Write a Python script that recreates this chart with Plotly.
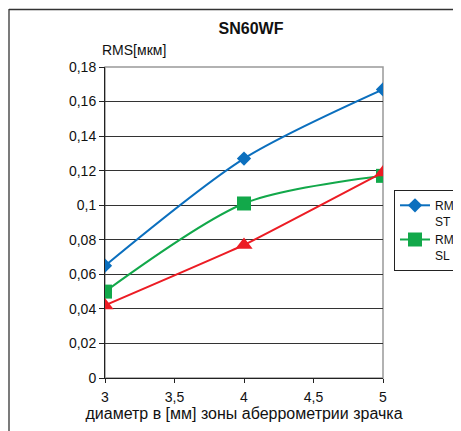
import plotly.graph_objects as go

x_mm = [3, 4, 5]
rms_st = [0.065, 0.127, 0.167]
rms_sl = [0.050, 0.101, 0.117]
rms_red = [0.042, 0.077, 0.119]

y_tickvals = [0, 0.02, 0.04, 0.06, 0.08, 0.1, 0.12, 0.14, 0.16, 0.18]
y_ticktext = ["0", "0,02", "0,04", "0,06", "0,08", "0,1", "0,12", "0,14", "0,16", "0,18"]
x_tickvals = [3, 3.5, 4, 4.5, 5]
x_ticktext = ["3", "3,5", "4", "4,5", "5"]

FONT = "Arial, Liberation Sans, sans-serif"
W, H = 453, 423  # page has an 8px body margin inside the 461x431 window
L, R, T, B = 97, 375, 59, 370  # plot area in figure pixels
PW, PH = R - L, B - T

fig = go.Figure()
fig.add_trace(go.Scatter(x=x_mm, y=rms_st, name="RM<br>ST", mode="lines+markers",
                         line=dict(color="#0B6FBE", width=2, shape="spline", smoothing=0.8),
                         marker=dict(symbol="diamond", size=11, color="#0B6FBE")))
fig.add_trace(go.Scatter(x=x_mm, y=rms_sl, name="RM<br>SL", mode="lines+markers",
                         line=dict(color="#12A84A", width=2, shape="spline", smoothing=0.8),
                         marker=dict(symbol="square", size=14, color="#12A84A")))
fig.add_trace(go.Scatter(x=x_mm, y=rms_red, name="RMS", mode="lines+markers", showlegend=False,
                         line=dict(color="#EC1C24", width=2, shape="spline", smoothing=0.3),
                         marker=dict(symbol="triangle-up", size=15, color="#EC1C24")))

fig.update_layout(
    width=W, height=H,
    margin=dict(l=L, r=W - R, t=T, b=H - B, autoexpand=False),
    paper_bgcolor="white", plot_bgcolor="white",
    font=dict(family=FONT, size=14, color="#111"),
    title=dict(text="<b>SN60WF</b>", x=243/W, xanchor="center", y=1-20/H, yanchor="middle",
               yref="container", font=dict(size=16, color="#111")),
    showlegend=True,
    legend=dict(x=(386-L)/PW, y=(B-182)/PH, xanchor="left", yanchor="top",
                bordercolor="#222", borderwidth=1, bgcolor="white",
                font=dict(size=12, color="#111"), valign="top",
                tracegroupgap=0, itemwidth=30),
    xaxis=dict(range=[3, 5], tickvals=x_tickvals, ticktext=x_ticktext,
               showgrid=False, zeroline=False, showline=True, linecolor="#222", linewidth=1,
               ticks="outside", ticklen=4, tickcolor="#222", tickfont=dict(size=14),
               ticklabelstandoff=2,
               title=dict(text="диаметр в [мм] зоны аберрометрии зрачка", standoff=4,
                          font=dict(size=16))),
    yaxis=dict(range=[0, 0.18], tickvals=y_tickvals, ticktext=y_ticktext,
               showgrid=True, gridcolor="#333", gridwidth=1, zeroline=False,
               showline=True, linecolor="#222", linewidth=1,
               ticks="outside", ticklen=5, tickcolor="#222", tickfont=dict(size=14)),
    shapes=[
        dict(type="rect", xref="paper", yref="paper", x0=0, x1=1, y0=0, y1=1,
             line=dict(color="#999", width=1.5), layer="below"),
        dict(type="line", xref="paper", yref="paper", x0=(1-L)/PW, x1=(1-L)/PW, y0=-0.5,
             y1=(B-1)/PH, line=dict(color="#333", width=1.3)),
        dict(type="line", xref="paper", yref="paper", x0=(1-L)/PW, x1=(W-L)/PW,
             y0=(B-1.5)/PH, y1=(B-1.5)/PH, line=dict(color="#333", width=1.5)),
    ],
    annotations=[
        dict(text="RMS[мкм]", xref="paper", yref="paper", x=(92-L)/PW, y=(B-42)/PH,
             xanchor="left", yanchor="middle", showarrow=False, font=dict(size=14, color="#111")),
    ],
)

fig.write_html("out.html")
